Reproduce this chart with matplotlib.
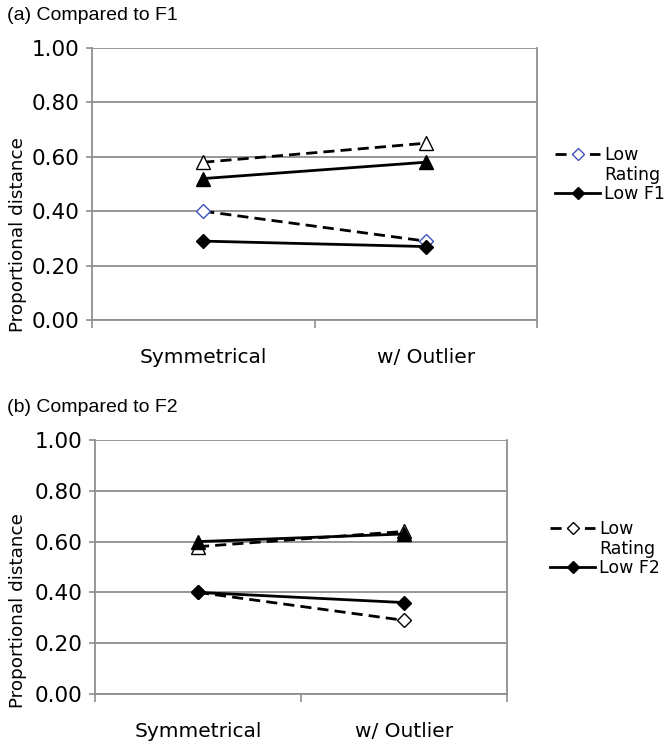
import matplotlib
matplotlib.use('Agg')
import matplotlib.pyplot as plt
from matplotlib.lines import Line2D

conditions = ['Symmetrical', 'w/ Outlier']
yticks = [0.0, 0.2, 0.4, 0.6, 0.8, 1.0]

# (a) compared to F1
a_rating_diamond = [0.40, 0.29]
a_f1_diamond = [0.29, 0.27]
a_rating_triangle = [0.58, 0.65]
a_f1_triangle = [0.52, 0.58]

# (b) compared to F2
b_rating_diamond = [0.40, 0.29]
b_f2_diamond = [0.40, 0.36]
b_rating_triangle = [0.58, 0.64]
b_f2_triangle = [0.60, 0.63]

GRID = '#8f8f8f'
DASH = (0, (4, 2.2))


def style_axes(ax, label_x, label_y):
    ax.set_xlim(-0.5, 1.5)
    ax.set_ylim(0, 1)
    ax.set_yticks(yticks)
    ax.set_yticklabels(['%.2f' % v for v in yticks])
    ax.set_xticks([0, 1])
    ax.set_xticklabels(conditions)
    ax.set_xticks([-0.5, 0.5, 1.5], minor=True)
    ax.tick_params(axis='x', which='major', length=0, pad=20, labelsize=14.5)
    ax.tick_params(axis='x', which='minor', length=6, width=1.2, color=GRID)
    ax.tick_params(axis='y', length=4, width=1.2, color=GRID, pad=5,
                   labelsize=15.5)
    ax.grid(axis='y', color=GRID, lw=1.3)
    ax.set_axisbelow(True)
    for side in ['left', 'right', 'bottom']:
        ax.spines[side].set_color(GRID)
        ax.spines[side].set_linewidth(1.3)
    ax.spines['top'].set_visible(False)
    ax.set_ylabel('Proportional distance', fontsize=13.2)
    ax.yaxis.set_label_coords(label_x, label_y)


def draw_panel(ax, rating_d, other_d, rating_t, other_t, diamond_edge):
    x = range(len(conditions))
    ax.plot(x, rating_t, linestyle=DASH, color='black', lw=2, marker='^',
            ms=10.5, mfc='white', mec='black', mew=1, zorder=3)
    ax.plot(x, other_t, '-', color='black', lw=2, marker='^', ms=10.5,
            mfc='black', mec='black', zorder=4)
    ax.plot(x, rating_d, linestyle=DASH, color='black', lw=2, marker='D',
            ms=7, mfc='white', mec=diamond_edge, mew=1, zorder=3)
    ax.plot(x, other_d, '-', color='black', lw=2, marker='D', ms=7,
            mfc='black', mec='black', zorder=4)


def add_legend(ax, diamond_edge, other_label, anchor):
    h_rating = Line2D([], [], linestyle=DASH, color='black', lw=2,
                      marker='D', ms=6, mfc='white', mec=diamond_edge)
    h_blank = Line2D([], [], linestyle='none')
    h_other = Line2D([], [], color='black', lw=2, marker='D', ms=6,
                     mfc='black', mec='black')
    ax.legend([h_rating, h_blank, h_other], ['Low', 'Rating', other_label],
              loc='upper left', bbox_to_anchor=anchor,
              bbox_transform=ax.figure.transFigure, frameon=False,
              fontsize=12.5, handlelength=2.6, handletextpad=0.25,
              labelspacing=0.1, borderaxespad=0, borderpad=0)


fig = plt.figure(figsize=(6.65, 7.41), dpi=100)

ax1 = fig.add_axes([92 / 665, 1 - 320 / 741, 445 / 665, 272 / 741])
draw_panel(ax1, a_rating_diamond, a_f1_diamond, a_rating_triangle,
           a_f1_triangle, '#4053b8')
style_axes(ax1, -0.146, 0.315)
add_legend(ax1, '#4053b8', 'Low F1', (555 / 665, 1 - 146 / 741))
fig.text(7 / 665, 1 - 16 / 741, '(a) Compared to F1', fontsize=14,
         family='Liberation Sans', va='center', ha='left')

ax2 = fig.add_axes([95 / 665, 1 - 694 / 741, 412 / 665, 254 / 741])
draw_panel(ax2, b_rating_diamond, b_f2_diamond, b_rating_triangle,
           b_f2_triangle, 'black')
style_axes(ax2, -0.165, 0.33)
add_legend(ax2, 'black', 'Low F2', (550 / 665, 1 - 520 / 741))
fig.text(7 / 665, 1 - 407 / 741, '(b) Compared to F2', fontsize=14,
         family='Liberation Sans', va='center', ha='left')

fig.savefig('out.png', dpi=100)
